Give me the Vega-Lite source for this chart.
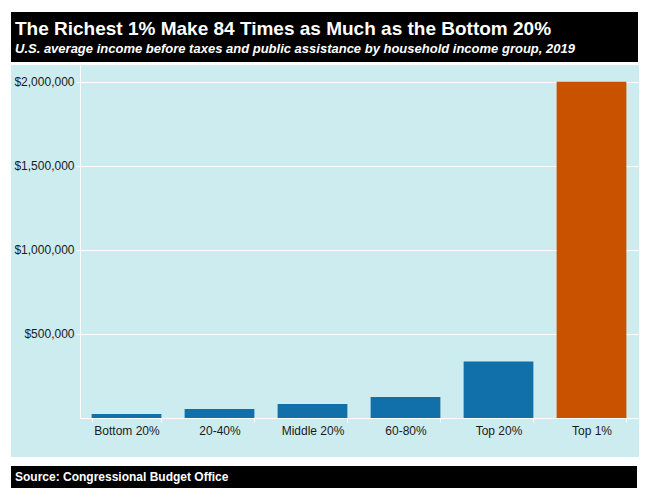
{
  "$schema": "https://vega.github.io/schema/vega-lite/v6.json",
  "background": "white",
  "padding": {"left": 11, "top": 12, "right": 0, "bottom": 0},
  "config": {"view": {"stroke": null}, "font": "Liberation Sans"},
  "spacing": 9,
  "vconcat": [
    {
      "spacing": 3,
      "vconcat": [
        {
          "width": 627,
          "height": 50,
          "view": {"fill": "black", "stroke": null},
          "data": {"values": []},
          "mark": "point",
          "title": {
            "text": "The Richest 1% Make 84 Times as Much as the Bottom 20%",
            "subtitle": "U.S. average income before taxes and public assistance by household income group, 2019",
            "orient": "top",
            "anchor": "start",
            "frame": "group",
            "offset": -44,
            "dx": 4,
            "font": "Liberation Sans",
            "fontSize": 19,
            "fontWeight": "bold",
            "color": "white",
            "subtitleFont": "Liberation Sans",
            "subtitleFontSize": 13,
            "subtitleFontWeight": "bold",
            "subtitleFontStyle": "italic",
            "subtitleColor": "white",
            "subtitlePadding": 4
          }
        },
        {
          "width": 628,
          "height": 392,
          "view": {"fill": "#cdecef", "stroke": null},
          "data": {
            "values": [
              {"group": "Bottom 20%", "income": 23800},
              {"group": "20-40%", "income": 53000},
              {"group": "Middle 20%", "income": 84000},
              {"group": "60-80%", "income": 125000},
              {"group": "Top 20%", "income": 336000},
              {"group": "Top 1%", "income": 2000000}
            ]
          },
          "mark": {"type": "bar"},
          "encoding": {
            "x": {
              "field": "group",
              "type": "nominal",
              "sort": null,
              "scale": {"range": [69, 627], "paddingInner": 0.25, "paddingOuter": 0.125},
              "axis": {
                "title": null,
                "offset": -39,
                "labelAngle": 0,
                "tickBand": "extent",
                "domainColor": "white",
                "tickColor": "white",
                "tickSize": 4,
                "labelFontSize": 12,
                "labelColor": "#1a1a1a",
                "labelPadding": 3,
                "grid": false
              }
            },
            "y": {
              "field": "income",
              "type": "quantitative",
              "scale": {"domain": [0, 2100000], "range": [353, 0], "nice": false, "zero": true},
              "axis": {
                "title": null,
                "offset": -69,
                "values": [500000, 1000000, 1500000, 2000000],
                "format": "$,.0f",
                "grid": true,
                "gridColor": "white",
                "gridOpacity": 1,
                "domainColor": "white",
                "tickColor": "white",
                "tickSize": 4,
                "labelFontSize": 12,
                "labelColor": "#1a1a1a",
                "labelPadding": 2
              }
            },
            "color": {
              "condition": {"test": "datum.group === 'Top 1%'", "value": "#c85200"},
              "value": "#1170aa"
            }
          }
        }
      ]
    },
    {
      "width": 626,
      "height": 22,
      "view": {"fill": "black", "stroke": null},
      "data": {"values": []},
      "mark": "point",
      "title": {
        "text": "Source: Congressional Budget Office",
        "orient": "top",
        "anchor": "start",
        "frame": "group",
        "offset": -18,
        "dx": 4,
        "font": "Liberation Sans",
        "fontSize": 12,
        "fontWeight": "bold",
        "color": "white"
      }
    }
  ]
}
